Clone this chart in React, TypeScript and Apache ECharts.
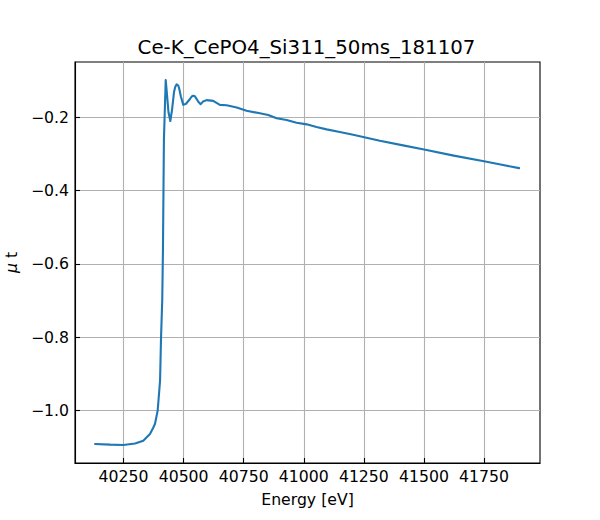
import React, { useEffect, useRef } from "react";
import * as echarts from "echarts";

const energy = [
  40131.5, 40194, 40249, 40298, 40332, 40360, 40374, 40381, 40392, 40402,
  40406, 40411, 40414, 40418, 40425.5, 40431, 40437, 40444.6, 40451.7, 40460,
  40465, 40471, 40477.5, 40481, 40489, 40498.6, 40510, 40526.5, 40533.6, 40540,
  40547, 40551, 40562, 40571, 40580.5, 40596, 40623, 40651, 40679, 40721,
  40762, 40817.5, 40852, 40887, 40928.6, 40970, 41012, 41053, 41095, 41150,
  41205.5, 41261, 41316.5, 41408, 41500.7, 41624, 41750, 41824, 41896,
];
const mut = [
  -1.091, -1.093, -1.0937, -1.09, -1.082, -1.064, -1.046, -1.036, -1.0, -0.918,
  -0.801, -0.699, -0.563, -0.262, -0.098, -0.139, -0.186, -0.21, -0.18, -0.131,
  -0.1172, -0.11, -0.1131, -0.12, -0.1445, -0.166, -0.163, -0.15, -0.1432, -0.141,
  -0.1423, -0.147, -0.158, -0.164, -0.157, -0.153, -0.155, -0.166, -0.167, -0.173,
  -0.182, -0.189, -0.1937, -0.2027, -0.2074, -0.2148, -0.2191, -0.2265, -0.2328, -0.2402,
  -0.2476, -0.2558, -0.264, -0.2757, -0.2875, -0.3044, -0.32, -0.3295, -0.3386,
];
const xTicks = [40250, 40500, 40750, 41000, 41250, 41500, 41750];
const yTicks = [-1.0, -0.8, -0.6, -0.4, -0.2];
const titleText = "Ce-K_CePO4_Si311_50ms_181107";
const xName = "Energy [eV]";
const yName = "{i|\u03bc} t";

const FONT = "DejaVu Sans";
const TICK_FS = 15.7;

export default function App() {
  const ref = useRef<HTMLDivElement>(null);
  useEffect(() => {
    document.body.style.margin = "0";
    const chart = echarts.init(ref.current!, null, { renderer: "svg" });
    const data = energy.map((e, i) => [e, mut[i]]);
    chart.setOption({
      animation: false,
      backgroundColor: "#ffffff",
      textStyle: { fontFamily: FONT },
      grid: {
        left: 75,
        right: 60,
        top: 62,
        bottom: 57,
        show: true,
        borderColor: "#000",
        borderWidth: 1.1,
        containLabel: false,
        outerBoundsMode: "none",
      },
      graphic: [
        {
          type: "text",
          x: 306.5,
          y: 47,
          style: {
            text: titleText,
            align: "center",
            verticalAlign: "middle",
            fontFamily: FONT,
            fontSize: 19.8,
            fill: "#000",
          },
        },
      ],
      xAxis: {
        type: "value",
        min: 40048,
        max: 41983,
        name: xName,
        nameLocation: "middle",
        nameGap: 28,
        nameTextStyle: { fontFamily: FONT, fontSize: TICK_FS, color: "#000" },
        axisLine: { show: true, lineStyle: { color: "#000", width: 1.1 } },
        axisTick: {
          show: true,
          inside: true,
          length: 5,
          customValues: xTicks,
          lineStyle: { color: "#000", width: 1.1 },
        },
        axisLabel: {
          customValues: xTicks,
          margin: 5,
          fontFamily: FONT,
          fontSize: TICK_FS,
          color: "#000",
          formatter: (v: number) => String(v),
        },
        splitLine: { show: true, lineStyle: { color: "#b0b0b0", width: 1.1 } },
      },
      yAxis: {
        type: "value",
        min: -1.143,
        max: -0.049,
        name: yName,
        nameLocation: "middle",
        nameGap: 56,
        nameTextStyle: {
          fontFamily: FONT,
          fontSize: TICK_FS,
          color: "#000",
          rich: { i: { fontFamily: FONT, fontSize: TICK_FS, fontStyle: "italic", color: "#000" } },
        },
        axisLine: { show: true, lineStyle: { color: "#000", width: 1.1 } },
        axisTick: {
          show: true,
          inside: true,
          length: 5,
          customValues: yTicks,
          lineStyle: { color: "#000", width: 1.1 },
        },
        axisLabel: {
          customValues: yTicks,
          margin: 6,
          fontFamily: FONT,
          fontSize: TICK_FS,
          color: "#000",
          formatter: (v: number) => (v < 0 ? "\u2212" : "") + Math.abs(v).toFixed(1),
        },
        splitLine: { show: true, lineStyle: { color: "#b0b0b0", width: 1.1 } },
      },
      series: [
        {
          type: "line",
          data,
          showSymbol: false,
          smooth: false,
          lineStyle: { color: "#1f77b4", width: 2.1, join: "round", cap: "round" },
          itemStyle: { color: "#1f77b4" },
        },
      ],
    });
    return () => chart.dispose();
  }, []);
  return <div ref={ref} style={{ width: 600, height: 520 }} />;
}
